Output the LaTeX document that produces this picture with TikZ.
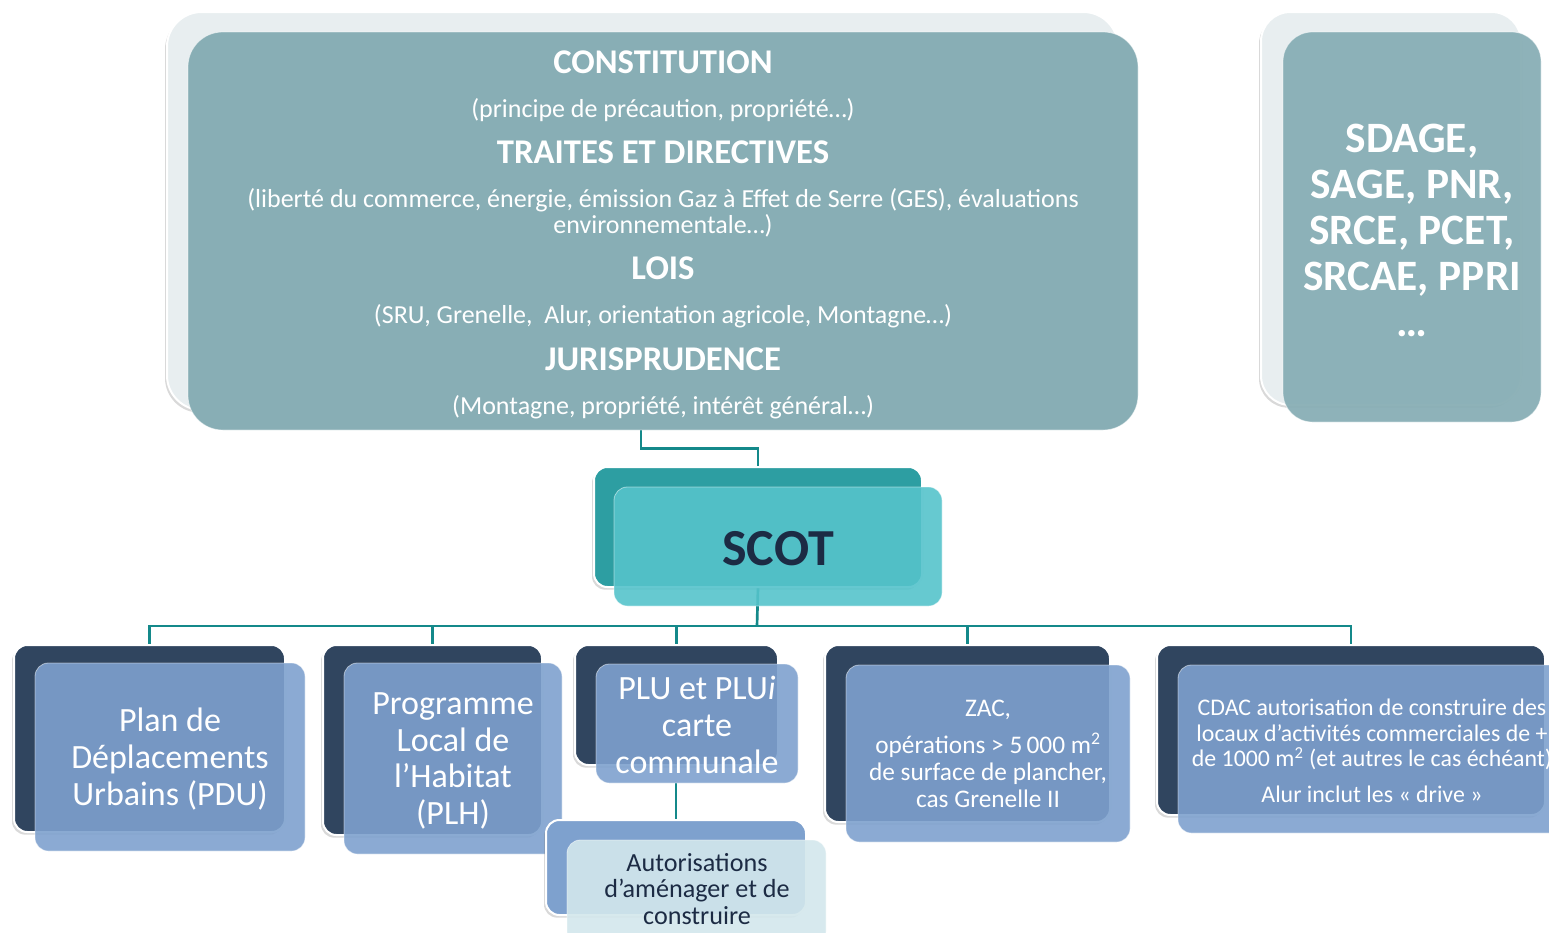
\documentclass[tikz,border=0pt]{standalone}
\usepackage{fontspec}
\setmainfont{Carlito}
\usepackage{tikz}
\usetikzlibrary{backgrounds,calc,fit,shadows}
\definecolor{cConstBack}{HTML}{E8EEF0}
\definecolor{cConst}{HTML}{88AEB5}
\definecolor{cScotBack}{HTML}{2D9EA2}
\definecolor{cScot}{HTML}{55C3CB}
\definecolor{cNavy}{HTML}{30455F}
\definecolor{cSteel}{HTML}{7EA1CE}
\definecolor{cPale}{HTML}{D3E7EC}
\definecolor{cLink}{HTML}{14898A}
\definecolor{cInk}{HTML}{1C2B44}

\begin{document}
\begin{tikzpicture}[x=0.75pt,y=-0.75pt,
  backbox/.style={draw=white,line width=1.5pt,rounded corners=10pt,inner sep=0pt,
    drop shadow={shadow xshift=-1.5pt,shadow yshift=-2pt,opacity=.3}},
  frontbox/.style={draw=white,draw opacity=.5,line width=.6pt,rounded corners=10pt,inner sep=0pt,
    fill opacity=.9},
  boxtext/.style={text=white,align=center,inner sep=0pt},
  link/.style={cLink,line width=2pt},
  toptitle/.style={text=white,font=\bfseries\fontsize{26}{30}\selectfont},
  topsub/.style={text=white,align=center,font=\fontsize{19.5}{19.5}\selectfont}]
\useasboundingbox (0,0) rectangle (1549,932);

\node[backbox,fill=cConstBack,rounded corners=26pt,fit={(167,12) (1118,410)}] (constback) {};
\node[frontbox,fill=cConst,fill opacity=1,rounded corners=26pt,fit={(188,32) (1138,430)}] (constfront) {};
\node[toptitle] (t1) at (663,62) {CONSTITUTION};
\node[topsub] (s1) at (663,110) {(principe de précaution, propriété…)};
\node[toptitle] (t2) at (663,152) {TRAITES ET DIRECTIVES};
\node[topsub] (s2) at (663,213) {(liberté du commerce, énergie, émission Gaz à Effet de Serre (GES), évaluations\\environnementale…)};
\node[toptitle] (t3) at (663,268) {LOIS};
\node[topsub] (s3) at (663,316) {(SRU, Grenelle,\ \ Alur, orientation agricole, Montagne…)};
\node[toptitle] (t4) at (663,359) {JURISPRUDENCE};
\node[topsub] (s4) at (663,407) {(Montagne, propriété, intérêt général…)};

\node[backbox,fill=cConstBack,rounded corners=22pt,fit={(1261,12) (1521,405)}] (planback) {};
\node[frontbox,fill=cConst,fill opacity=.95,rounded corners=22pt,fit={(1283,32) (1541,422)}] (planfront) {};
\node[boxtext,font=\bfseries\fontsize{32.5}{34.5}\selectfont] (plantext) at (1412,230) {SDAGE,\\SAGE, PNR,\\SRCE, PCET,\\SRCAE, PPRI\\…};

\node[backbox,fill=cScotBack,fit={(594,467) (922,587)}] (scotback) {};
\node[frontbox,fill=cScot,fit={(614,487) (942,606)}] (scotfront) {};
\node[boxtext,text=cInk,font=\bfseries\fontsize{39}{44}\selectfont] (scottext) at (778,549) {SCOT};

\node[backbox,fill=cNavy,fit={(14,645) (285,832)}] (pduback) {};
\node[frontbox,fill=cSteel,fit={(35,663) (305,851)}] (pdufront) {};
\node[boxtext,font=\fontsize{25.5}{27.5}\selectfont] (pdutext) at (170,759) {Plan de\\Déplacements\\Urbains (PDU)};
\node[backbox,fill=cNavy,fit={(323,645) (542,835)}] (plhback) {};
\node[frontbox,fill=cSteel,fit={(344,663) (562,854)}] (plhfront) {};
\node[boxtext,font=\fontsize{25.5}{27.5}\selectfont] (plhtext) at (453,761) {Programme\\Local de\\l’Habitat\\(PLH)};
\node[backbox,fill=cNavy,fit={(575,645) (778,765)}] (pluback) {};
\node[frontbox,fill=cSteel,fit={(596,664) (798,783)}] (plufront) {};
\node[boxtext,font=\fontsize{25.5}{27.5}\selectfont] (plutext) at (697,725) {PLU et PLU\textit{i}\\carte\\communale};
\node[backbox,fill=cSteel,fit={(546,820) (806,915)}] (autback) {};
\node[frontbox,fill=cPale,fit={(567,840) (826,945)}] (autfront) {};
\node[boxtext,text=cInk,font=\fontsize{19.6}{20}\selectfont] (auttext) at (697,889) {Autorisations\\d’aménager et de\\construire};
\node[backbox,fill=cNavy,fit={(825,645) (1110,822)}] (zacback) {};
\node[frontbox,fill=cSteel,fit={(846,665) (1130,842)}] (zacfront) {};
\node[boxtext,font=\fontsize{19}{20.5}\selectfont] (zactext) at (988,754) {ZAC,\\[7pt]opérations > 5\,000 m\textsuperscript{2}\\de surface de plancher,\\cas Grenelle II};
\node[backbox,fill=cNavy,fit={(1157,645) (1545,815)}] (cdacback) {};
\node[frontbox,fill=cSteel,fit={(1178,665) (1566,833)}] (cdacfront) {};
\node[boxtext,font=\fontsize{17.9}{19}\selectfont] (cdactext) at (1372,751) {CDAC autorisation de construire des\\locaux d’activités commerciales de +\\de 1000 m\textsuperscript{2} (et autres le cas échéant)\\[8pt]Alur inclut les « drive »};

\coordinate (bus) at (757,626);
\begin{pgfonlayer}{background}
\draw[link] ($(constfront.south)+(-22,0)$) -- ++(0,18) -| (scotback.north);
\draw[link] (scotback.south) -- (bus);
\foreach \b in {pduback,plhback,pluback,zacback,cdacback}
  \draw[link] (bus) -| (\b.north);
\draw[link] (autback.north |- plufront.south) -- (autback.north);
\end{pgfonlayer}
\end{tikzpicture}
\end{document}
